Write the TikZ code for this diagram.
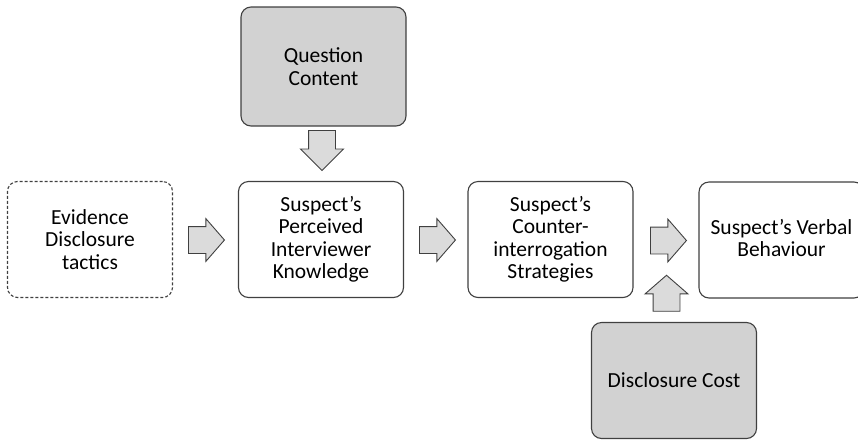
\documentclass[tikz,border=0pt]{standalone}
\usepackage{fontspec}
\setmainfont{Carlito}
\usetikzlibrary{shapes.arrows}
\colorlet{boxfill}{gray!35}
\colorlet{arrowfill}{gray!28}
\colorlet{linec}{black!75}
\tikzstyle{flow} = [
  x=1pt,
  y=-1pt,
  font=\fontsize{21.5}{22.5}\selectfont,
  box/.style={
    draw=linec,
    line width=1.1pt,
    rounded corners=10pt,
    align=center,
    minimum width=165pt,
    minimum height=116pt,
    fill=white,
  },
  greybox/.style={box, fill=boxfill},
  dashbox/.style={box, dash pattern=on 3pt off 2pt},
  blockarrow/.style={
    shape=single arrow,
    anchor=tail,
    draw=linec,
    line width=0.9pt,
    fill=arrowfill,
    inner xsep=0pt,
    inner ysep=13pt,
    minimum height=36pt,
    single arrow head extend=8pt,
    single arrow tip angle=98,
  },
]

\begin{document}
\begin{tikzpicture}[flow]
      \useasboundingbox (0,0) rectangle (858,440);
      \clip (0,0) rectangle (858,440);

      % Boxes
      \node[greybox, minimum height=119pt] (qc) at (323.5,66.5) {Question\\Content};
      \node[dashbox] (ev) at (90,239.5) {Evidence\\Disclosure\\tactics};
      \node[box] (pk) at (321,239.5) {Suspect’s\\Perceived\\Interviewer\\Knowledge};
      \node[box] (cs) at (550.5,239.5) {Suspect’s\\Counter-\\interrogation\\Strategies};
      \node[box] (vb) at (781.5,240) {};
      \node[align=center, yshift=2pt] (vbtext) at (vb) {Suspect’s Verbal\\Behaviour};
      \node[greybox] (dc) at (674,380.5) {Disclosure Cost};

      % Arrows
      \node[blockarrow] (a1) at (188,240) {};
      \node[blockarrow] (a2) at (419,240) {};
      \node[blockarrow] (a3) at (650,240.5) {};
      \node[blockarrow, rotate=-90, minimum height=40pt, single arrow tip angle=90] (down) at (322,130) {};
      \node[blockarrow, rotate=90] (up) at (666.5,311.7) {};
    \end{tikzpicture}
\end{document}
